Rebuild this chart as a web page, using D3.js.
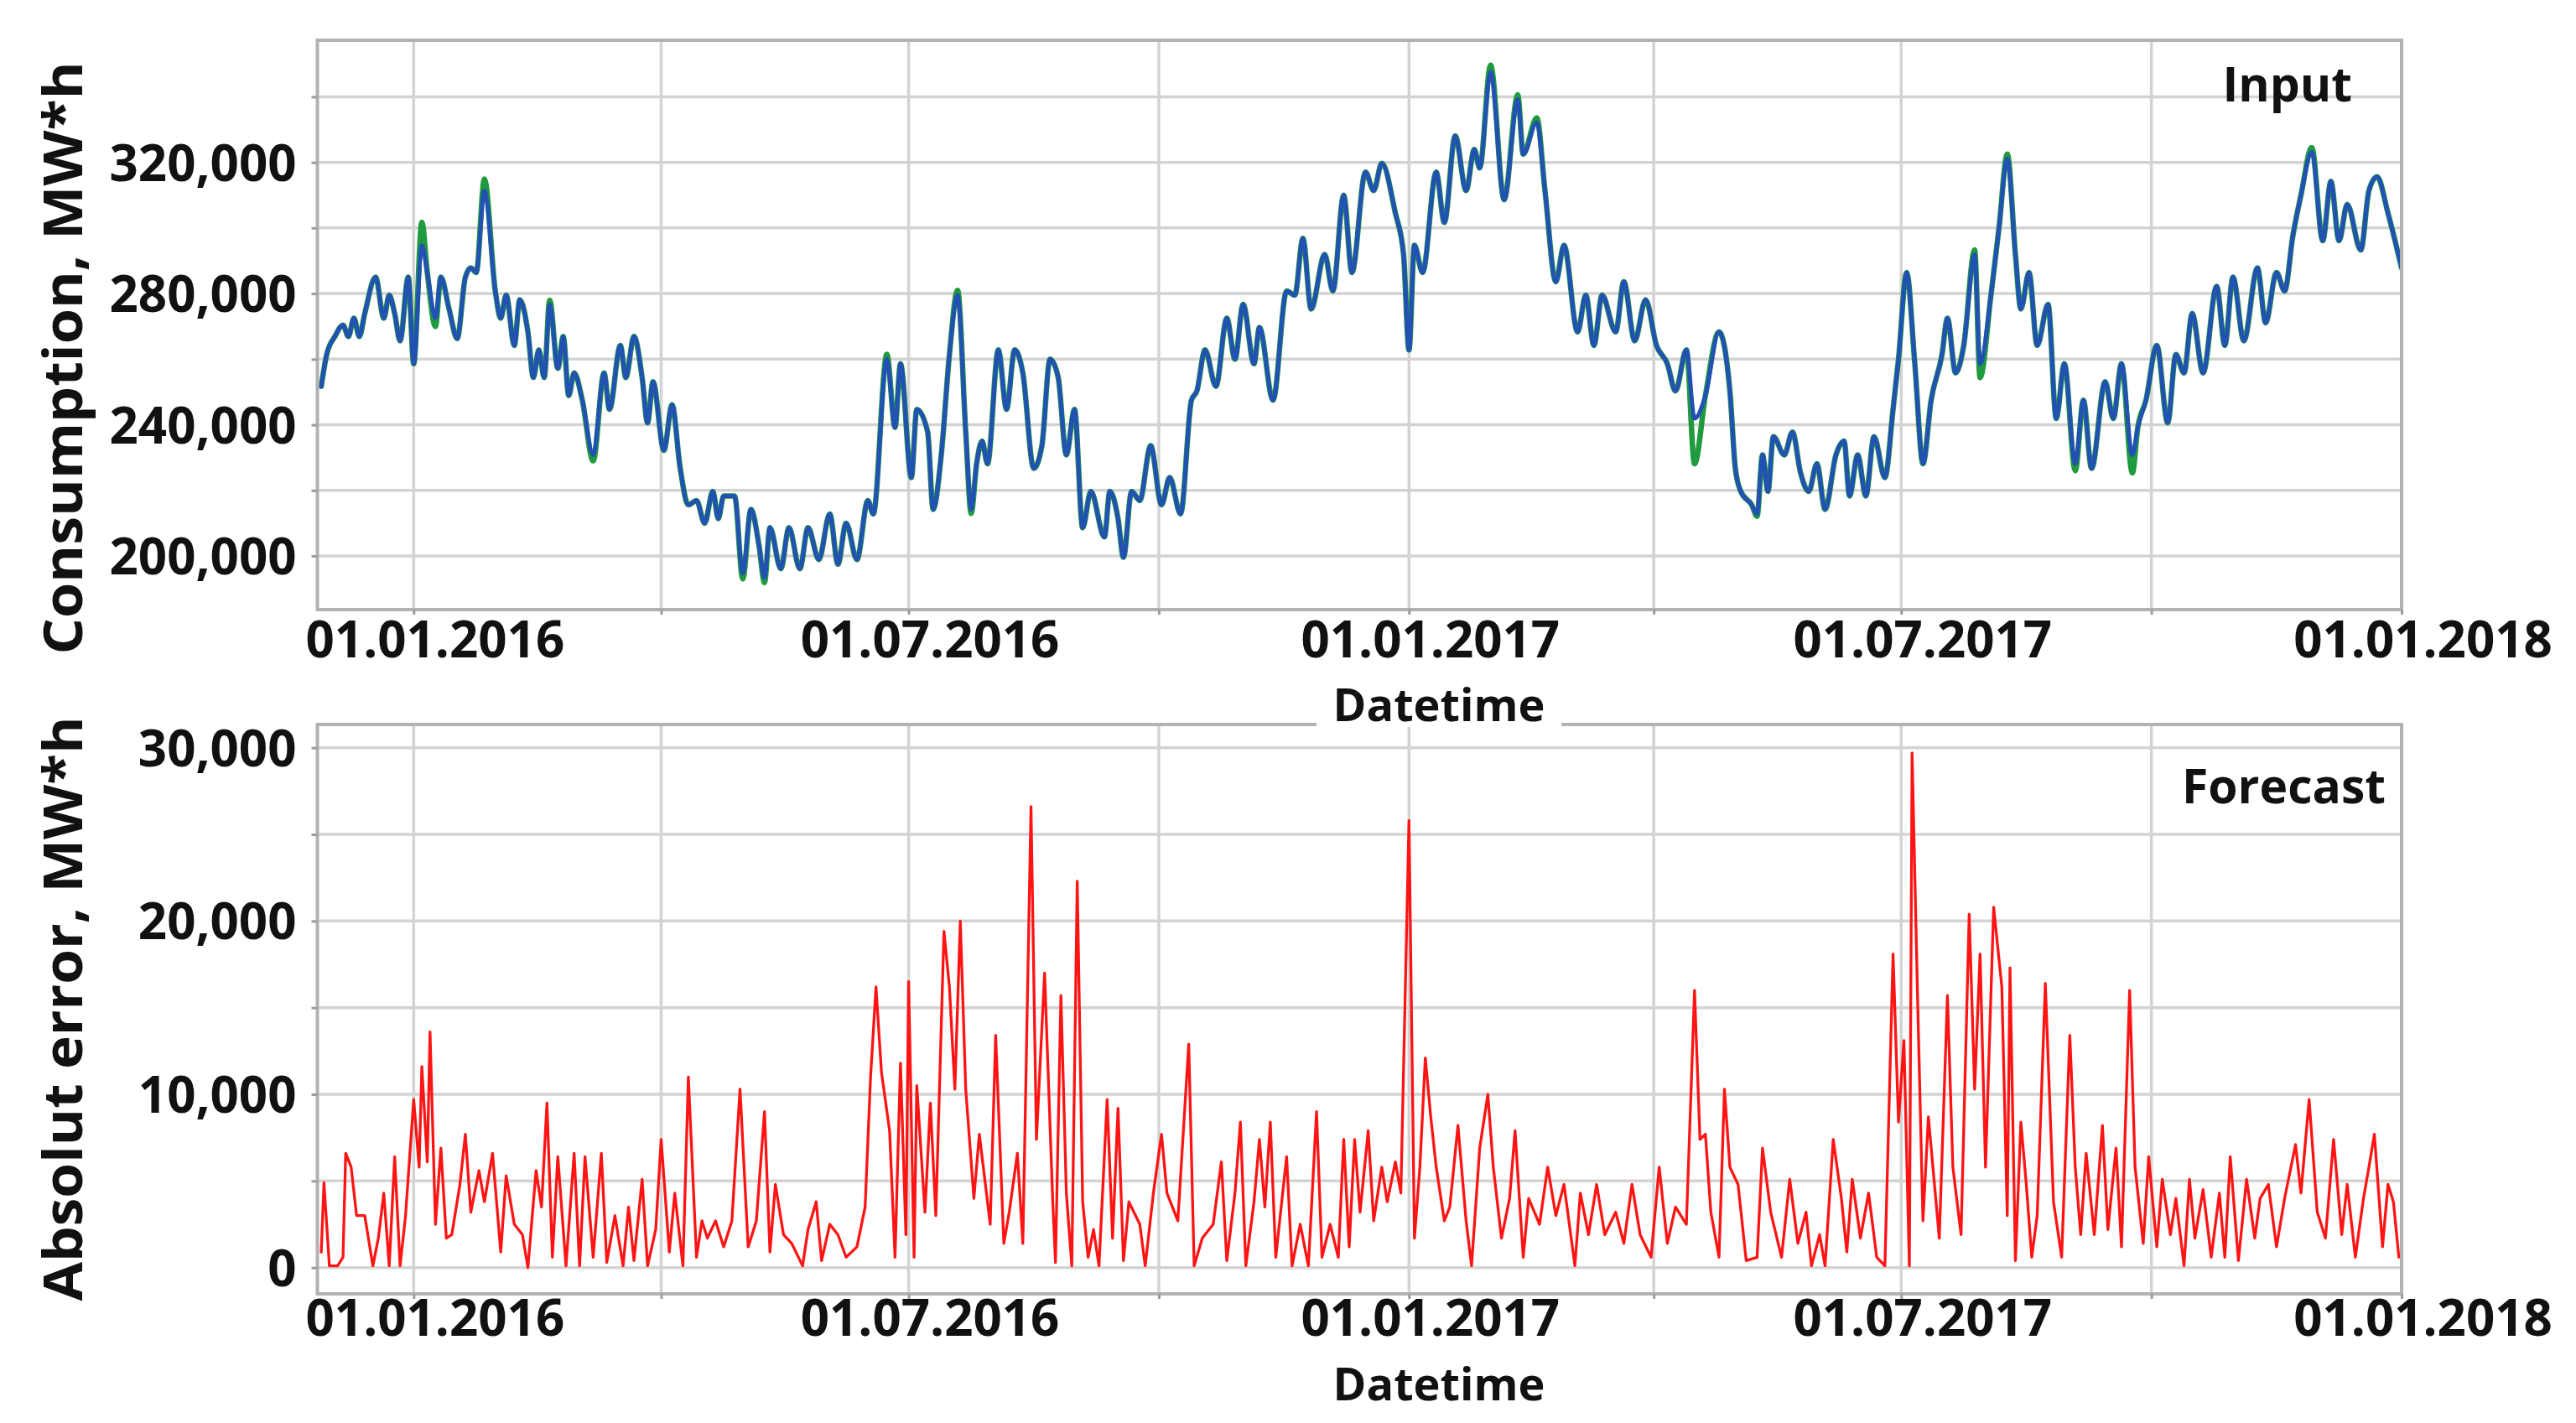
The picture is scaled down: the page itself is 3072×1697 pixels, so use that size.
<!DOCTYPE html>
<html>
<head>
<meta charset="utf-8">
<script src="https://cdn.jsdelivr.net/npm/d3@7"></script>
<style>
  html, body { margin: 0; padding: 0; background: #fff; }
  svg { display: block; font-family: "Open Sans", "DejaVu Sans", sans-serif; font-weight: 700; }
</style>
</head>
<body>
<svg id="chart" width="3072" height="1697"></svg>
<script>
// all days are counted from 01.01.2016
const inputDays = [
  -34, -32, -29, -26, -24, -22, -20, -18, -14, -11,
  -9, -7, -5, -2, 0, 3, 5, 8, 10, 13,
  16, 19, 21, 23, 26, 30, 32, 34, 37, 39,
  42, 44, 46, 48, 50, 53, 55, 57, 59, 62,
  66, 70, 72, 76, 78, 81, 84, 86, 88, 92,
  95, 98, 101, 104, 107, 110, 112, 114, 118, 121,
  124, 127, 129, 131, 135, 138, 142, 145, 149, 153,
  156, 159, 163, 167, 169, 174, 177, 179, 183, 185,
  189, 191, 194, 197, 200, 203, 205, 207, 209, 211,
  215, 218, 221, 224, 228, 231, 234, 237, 240, 243,
  246, 249, 254, 256, 259, 261, 264, 267, 271, 275,
  278, 282, 286, 288, 291, 295, 299, 302, 305, 309,
  311, 316, 321, 324, 327, 330, 335, 338, 342, 345,
  350, 353, 356, 361, 364, 366, 368, 371, 376, 379,
  383, 387, 390, 392, 396, 401, 406, 408, 413, 416,
  420, 423, 428, 431, 434, 437, 442, 445, 449, 453,
  457, 461, 464, 468, 471, 475, 480, 484, 486, 488,
  492, 494, 496, 498, 500, 504, 507, 510, 513, 516,
  519, 523, 526, 528, 531, 534, 537, 541, 544, 546,
  549, 552, 555, 558, 562, 564, 567, 570, 574, 576,
  580, 583, 586, 589, 591, 594, 597, 601, 604, 607,
  611, 614, 617, 622, 625, 628, 632, 634, 637, 641,
  645, 648, 651, 654, 658, 663, 666, 669, 673, 678,
  681, 685, 688, 691, 694, 698, 702, 705, 708, 711,
  716, 719, 722, 726, 731
]

// blue line
const inputFitted = [
  251700, 261400, 266900, 270400, 266900, 272500, 266900, 273900, 285000, 272500,
  279500, 273900, 265600, 285000, 258600, 294700, 286400, 272500, 285000, 275300,
  266300, 285000, 287800, 286400, 311400, 280800, 272500, 279500, 264200, 278100,
  268300, 254400, 262800, 254400, 276700, 257200, 266900, 248900, 255800, 247500,
  230800, 255800, 244700, 264200, 254400, 266900, 254400, 240600, 253100, 232200,
  246100, 226700, 215600, 216900, 210000, 219700, 211400, 218300, 218300, 194700,
  214200, 203100, 193300, 208600, 196100, 208600, 196100, 208600, 198900, 212800,
  197500, 210000, 198900, 216900, 212800, 260000, 239200, 258600, 223900, 244700,
  237800, 214200, 230800, 261400, 279500, 237800, 214200, 228100, 235000, 228100,
  262800, 244700, 262800, 255800, 226700, 233600, 260000, 254400, 230800, 244700,
  208600, 219700, 205800, 219700, 211400, 199600, 219700, 216900, 233600, 215600,
  223900, 212800, 247500, 250300, 262800, 251700, 272500, 260000, 276700, 258600,
  269700, 247500, 280800, 279500, 296800, 275300, 291900, 280800, 310000, 286400,
  317000, 311400, 319700, 304500, 291900, 262800, 294700, 286400, 317000, 301700,
  328100, 311400, 323900, 318300, 347500, 308600, 339200, 322500, 332200, 311400,
  283600, 294700, 268300, 279500, 264200, 279500, 268300, 283600, 265600, 278100,
  264200, 258600, 250300, 262800, 241900, 248900, 268300, 250300, 226700, 219700,
  215600, 212800, 230800, 219700, 236400, 230800, 237800, 225300, 219700, 228100,
  214200, 230800, 235000, 218300, 230800, 218300, 236400, 223900, 244700, 260000,
  286400, 258600, 228100, 247500, 261400, 272500, 255800, 264200, 291900, 258600,
  279500, 300300, 321100, 291900, 275300, 286400, 264200, 276700, 241900, 258600,
  228100, 247500, 226700, 253100, 241900, 258600, 230800, 239200, 247500, 264200,
  240600, 261400, 255800, 273900, 255800, 282200, 264200, 285000, 265600, 287800,
  271100, 286400, 280800, 297500, 310000, 323200, 296100, 314200, 296100, 307200,
  293300, 311400, 315600, 304500, 287800
]

// green line
const inputActual = [
  251700, 261400, 266900, 270400, 266900, 272500, 266900, 273900, 285000, 272500,
  279500, 273900, 265600, 285000, 258600, 301700, 286400, 270000, 285000, 275300,
  266300, 285000, 287800, 286400, 314900, 280800, 272500, 279500, 264200, 278100,
  268300, 254400, 262800, 254400, 278000, 257200, 266900, 248900, 255800, 247500,
  229000, 255800, 244700, 264200, 254400, 266900, 254400, 240600, 253100, 232200,
  246100, 226700, 215600, 216900, 210000, 219700, 211400, 218300, 218300, 193000,
  214200, 203100, 191900, 208600, 196100, 208600, 196100, 208600, 198900, 212800,
  197500, 210000, 198900, 216900, 212800, 261500, 239200, 258600, 223900, 244700,
  237800, 214200, 230800, 261400, 281000, 237800, 213000, 228100, 235000, 228100,
  262800, 244700, 262800, 255800, 226700, 233600, 260000, 254400, 230800, 244700,
  208600, 219700, 205800, 219700, 211400, 199600, 219700, 216900, 233600, 215600,
  223900, 212800, 247500, 250300, 262800, 251700, 272500, 260000, 276700, 258600,
  269700, 247500, 280800, 279500, 296800, 275300, 291900, 280800, 310000, 286400,
  317000, 311400, 319700, 304500, 291900, 262800, 294700, 286400, 317000, 301700,
  328100, 311400, 323900, 318300, 349600, 308600, 340600, 322500, 333600, 311400,
  283600, 294700, 268300, 279500, 264200, 279500, 268300, 283600, 265600, 278100,
  264200, 258600, 250300, 262800, 228100, 248900, 268300, 250300, 226700, 219700,
  215600, 212100, 230800, 219700, 236400, 230800, 237800, 225300, 219700, 228100,
  214200, 230800, 235000, 218300, 230800, 218300, 236400, 223900, 244700, 260000,
  286400, 258600, 228100, 247500, 261400, 272500, 255800, 264200, 293300, 254400,
  279500, 300300, 322500, 291900, 275300, 286400, 264200, 276700, 241900, 258600,
  226000, 247500, 226700, 253100, 241900, 258600, 225300, 239200, 247500, 264200,
  240600, 261400, 255800, 273900, 255800, 282200, 264200, 285000, 265600, 287800,
  271100, 286400, 280800, 297500, 310000, 324500, 296100, 314200, 296100, 307200,
  293300, 311400, 315600, 304500, 287800
]

const errorDays = [
  -34, -33, -31, -28, -26, -25, -23, -21, -18, -15,
  -13, -11, -9, -7, -5, -3, 0, 2, 3, 5,
  6, 8, 10, 12, 14, 17, 19, 21, 24, 26,
  29, 32, 34, 37, 40, 42, 45, 47, 49, 51,
  53, 56, 59, 61, 63, 66, 69, 71, 74, 77,
  79, 81, 84, 86, 89, 91, 94, 96, 99, 101,
  104, 106, 108, 111, 114, 117, 120, 123, 126, 129,
  131, 133, 136, 139, 143, 145, 148, 150, 153, 156,
  159, 163, 166, 168, 170, 172, 175, 177, 179, 181,
  182, 184, 185, 188, 190, 192, 195, 197, 199, 201,
  203, 206, 208, 212, 214, 217, 219, 222, 224, 227,
  229, 232, 235, 236, 238, 240, 242, 244, 246, 248,
  250, 252, 255, 257, 259, 261, 263, 267, 269, 272,
  275, 277, 281, 285, 287, 290, 294, 297, 299, 302,
  304, 306, 309, 311, 313, 315, 317, 321, 323, 326,
  329, 332, 334, 337, 340, 342, 344, 346, 348, 351,
  353, 356, 358, 361, 363, 366, 368, 370, 372, 374,
  376, 379, 381, 384, 387, 389, 392, 395, 397, 400,
  403, 405, 408, 410, 414, 417, 420, 423, 427, 429,
  432, 435, 438, 442, 445, 448, 451, 455, 458, 461,
  464, 468, 471, 473, 475, 477, 480, 482, 484, 487,
  490, 494, 496, 499, 503, 506, 509, 512, 514, 517,
  519, 522, 525, 527, 529, 532, 535, 538, 541, 544,
  546, 548, 550, 551, 553, 555, 557, 561, 564, 566,
  569, 572, 574, 576, 578, 581, 584, 586, 587, 589,
  591, 593, 595, 597, 600, 603, 606, 609, 611, 613,
  615, 618, 621, 623, 626, 628, 631, 633, 636, 638,
  641, 643, 646, 648, 651, 653, 655, 658, 661, 664,
  666, 668, 671, 674, 677, 679, 682, 685, 688, 692,
  694, 697, 700, 703, 706, 709, 711, 714, 717, 719,
  721, 724, 726, 728, 730
]

const errorValues = [
  900, 4900, 100, 100, 600, 6600, 5800, 3000, 3000, 100,
  1700, 4300, 100, 6400, 100, 3000, 9700, 5800, 11600, 6100,
  13600, 2500, 6900, 1700, 1900, 4800, 7700, 3200, 5600, 3800,
  6600, 900, 5300, 2500, 1900, 0, 5600, 3500, 9500, 600,
  6400, 100, 6600, 100, 6400, 600, 6600, 300, 3000, 100,
  3500, 400, 5100, 100, 2200, 7400, 900, 4300, 100, 11000,
  600, 2700, 1700, 2700, 1200, 2700, 10300, 1200, 2700, 9000,
  900, 4800, 1900, 1400, 100, 2200, 3800, 400, 2500, 1900,
  600, 1200, 3500, 11000, 16200, 11300, 7900, 600, 11800, 1900,
  16500, 600, 10500, 3200, 9500, 3000, 19400, 16200, 10300, 20000,
  10300, 4000, 7700, 2500, 13400, 1400, 3200, 6600, 1400, 26600,
  7400, 17000, 3800, 300, 15700, 4300, 100, 22300, 3800, 600,
  2200, 100, 9700, 1700, 9200, 400, 3800, 2500, 100, 4300,
  7700, 4300, 2700, 12900, 100, 1700, 2500, 6100, 400, 4300,
  8400, 100, 3800, 7400, 3500, 8400, 600, 6400, 100, 2500,
  100, 9000, 600, 2500, 600, 7400, 1200, 7400, 3200, 7900,
  2700, 5800, 3800, 6100, 4300, 25800, 1700, 5800, 12100, 8700,
  5800, 2700, 3500, 8200, 2700, 100, 6900, 10000, 5800, 1700,
  4000, 7900, 600, 4000, 2500, 5800, 3000, 4800, 100, 4300,
  1900, 4800, 1900, 3200, 1400, 4800, 1900, 600, 5800, 1400,
  3500, 2500, 16000, 7400, 7700, 3200, 600, 10300, 5800, 4800,
  400, 600, 6900, 3200, 600, 5100, 1400, 3200, 100, 1900,
  100, 7400, 4000, 900, 5100, 1700, 4300, 600, 100, 18100,
  8400, 13100, 100, 29700, 15700, 2700, 8700, 1700, 15700, 5800,
  1900, 20400, 10300, 18100, 5800, 20800, 16200, 3000, 17300, 400,
  8400, 4800, 600, 3000, 16400, 3800, 600, 13400, 5800, 1900,
  6600, 1900, 8200, 2200, 6900, 1200, 16000, 5800, 1400, 6400,
  1200, 5100, 1900, 4000, 100, 5100, 1700, 4500, 600, 4300,
  600, 6400, 400, 5100, 1700, 4000, 4800, 1200, 4000, 7100,
  4300, 9700, 3200, 1700, 7400, 1900, 4800, 600, 4000, 5800,
  7700, 1200, 4800, 3800, 600
]

const consumptionGrid = [200000, 220000, 240000, 260000, 280000, 300000, 320000, 340000]
const consumptionLabels = [200000, 240000, 280000, 320000]
const errorGrid = [0, 5000, 10000, 15000, 20000, 25000, 30000]
const errorLabels = [0, 10000, 20000, 30000]
const gridDates = ['2016-01-01', '2016-04-01', '2016-07-01', '2016-10-01', '2017-01-01',
  '2017-04-01', '2017-07-01', '2017-10-01', '2018-01-01']
const labelDates = ['2016-01-01', '2016-07-01', '2017-01-01', '2017-07-01', '2018-01-01']

const parseDay = d3.timeParse('%Y-%m-%d')
const fmtDay = d3.timeFormat('%d.%m.%Y')
const origin = new Date(2016, 0, 1)
const toDate = d => d3.timeDay.offset(origin, d)
const xDomain = [new Date(2015, 10, 26, 14), new Date(2018, 0, 1)]

const plotLeft = 378.5
const plotRight = 2864
const font = 60

const svg = d3.select('#chart')
const x = d3.scaleTime().domain(xDomain).range([plotLeft, plotRight])
const grid = gridDates.map(parseDay)
const labelled = new Set(labelDates.map(s => parseDay(s).getTime()))

function drawPanel(cfg) {
  const y = d3.scaleLinear().domain(cfg.yDomain).range([cfg.bottom, cfg.top])
  const g = svg.append('g')

  g.append('g')
    .selectAll('line')
    .data(cfg.yGrid)
    .join('line')
    .attr('x1', plotLeft)
    .attr('x2', plotRight)
    .attr('y1', d => y(d))
    .attr('y2', d => y(d))
    .attr('stroke', '#d3d3d3')
    .attr('stroke-width', 3.5)

  g.append('g')
    .selectAll('line')
    .data(grid)
    .join('line')
    .attr('x1', d => x(d))
    .attr('x2', d => x(d))
    .attr('y1', cfg.top)
    .attr('y2', cfg.bottom)
    .attr('stroke', '#d3d3d3')
    .attr('stroke-width', 3.5)

  svg.append('clipPath')
    .attr('id', 'clip-' + cfg.name)
    .append('rect')
    .attr('x', plotLeft)
    .attr('y', cfg.top)
    .attr('width', plotRight - plotLeft)
    .attr('height', cfg.bottom - cfg.top)

  cfg.series.forEach(s => {
    const line = d3.line()
      .x(p => x(toDate(p[0])))
      .y(p => y(p[1]))
      .curve(s.curve)

    g.append('path')
      .datum(d3.zip(s.days, s.values))
      .attr('clip-path', 'url(#clip-' + cfg.name + ')')
      .attr('fill', 'none')
      .attr('stroke', s.color)
      .attr('stroke-width', s.width)
      .attr('stroke-linejoin', 'round')
      .attr('stroke-linecap', 'round')
      .attr('d', line)
  })

  g.append('rect')
    .attr('x', plotLeft)
    .attr('y', cfg.top)
    .attr('width', plotRight - plotLeft)
    .attr('height', cfg.bottom - cfg.top)
    .attr('fill', 'none')
    .attr('stroke', '#b2b2b2')
    .attr('stroke-width', 4)

  const yAxis = d3.axisLeft(y)
    .tickValues(cfg.yGrid)
    .tickSize(7)
    .tickPadding(18)
    .tickFormat(d => cfg.yLabels.includes(d) ? d3.format(',')(d) : '')

  const ya = g.append('g')
    .attr('transform', `translate(${plotLeft},0)`)
    .call(yAxis)
  ya.select('.domain').remove()
  ya.attr('font-size', null).attr('font-family', null)
  ya.selectAll('.tick line').attr('stroke', '#9c9c9c').attr('stroke-width', 3)
  ya.selectAll('.tick text')
    .attr('font-size', font)
    .attr('fill', '#111')
    .attr('dy', '0.36em')

  const xAxis = d3.axisBottom(x)
    .tickValues(grid)
    .tickSize(6)
    .tickPadding(cfg.xPad)
    .tickFormat(d => labelled.has(d.getTime()) ? fmtDay(d) : '')

  const xa = g.append('g')
    .attr('transform', `translate(0,${cfg.bottom})`)
    .call(xAxis)
  xa.select('.domain').remove()
  xa.attr('font-size', null).attr('font-family', null)
  xa.selectAll('.tick line').attr('stroke', '#9c9c9c').attr('stroke-width', 3)
  xa.selectAll('.tick text')
    .attr('font-size', font)
    .attr('fill', '#111')
    .attr('dx', 25)

  g.append('text')
    .attr('transform', `translate(98,${cfg.titleY}) rotate(-90)`)
    .attr('text-anchor', 'middle')
    .attr('font-size', 64)
    .attr('fill', '#111')
    .attr('textLength', cfg.titleLength)
    .attr('lengthAdjust', 'spacingAndGlyphs')
    .text(cfg.title)

  g.append('text')
    .attr('x', cfg.tagX)
    .attr('y', cfg.tagY)
    .attr('text-anchor', 'end')
    .attr('font-size', 57)
    .attr('fill', '#111')
    .text(cfg.tag)

  return g
}

drawPanel({
  name: 'input',
  top: 48,
  bottom: 727,
  yDomain: [183640, 357230],
  yGrid: consumptionGrid,
  yLabels: consumptionLabels,
  xPad: 8,
  title: 'Consumption, MW*h',
  titleY: 427,
  titleLength: 707,
  tag: 'Input',
  tagX: 2805,
  tagY: 121,
  series: [
    { days: inputDays, values: inputActual, color: '#1f9a3e', width: 6.5, curve: d3.curveMonotoneX },
    { days: inputDays, values: inputFitted, color: '#2251b3', width: 5, curve: d3.curveMonotoneX },
  ],
})

drawPanel({
  name: 'error',
  top: 864,
  bottom: 1543,
  yDomain: [-1514, 31340],
  yGrid: errorGrid,
  yLabels: errorLabels,
  xPad: 1,
  title: 'Absolut error, MW*h',
  titleY: 1203,
  titleLength: 697,
  tag: 'Forecast',
  tagX: 2845,
  tagY: 958,
  series: [
    { days: errorDays, values: errorValues, color: '#ff1414', width: 3.3, curve: d3.curveLinear },
  ],
})

// the x title of the upper panel sits on a white box over the lower frame
svg.append('rect')
  .attr('x', 1570)
  .attr('y', 812)
  .attr('width', 292)
  .attr('height', 55)
  .attr('fill', '#fff')

svg.selectAll('.xtitle')
  .data([860, 1670])
  .join('text')
  .attr('class', 'xtitle')
  .attr('x', 1716)
  .attr('y', d => d)
  .attr('text-anchor', 'middle')
  .attr('font-size', 54)
  .attr('fill', '#111')
  .text('Datetime')
</script>
</body>
</html>
